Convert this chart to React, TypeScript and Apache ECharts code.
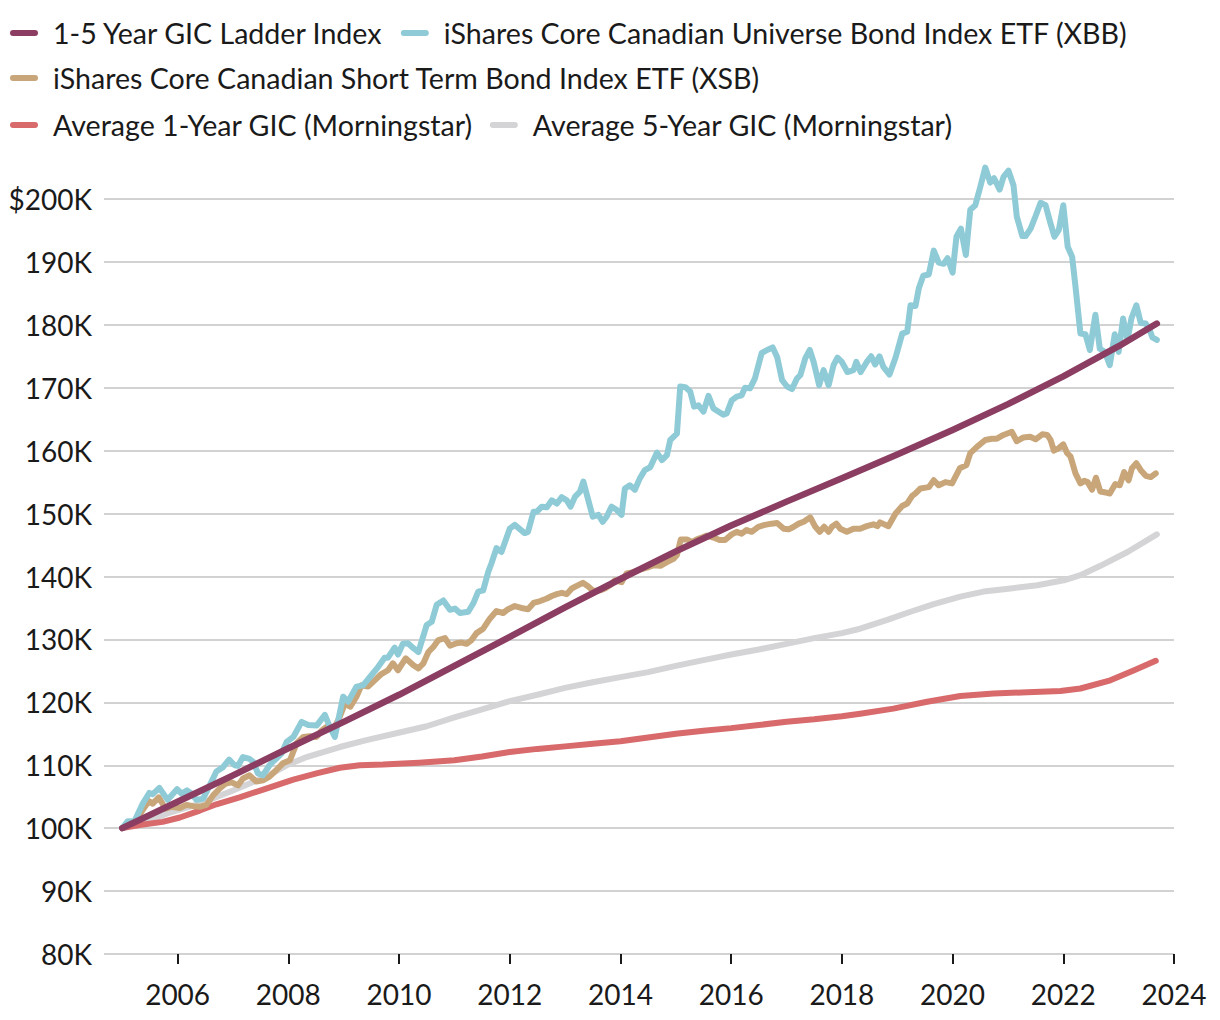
import React, { useEffect, useRef } from "react";
import * as echarts from "echarts";

const FONT = "Lato";

const SERIES_NAMES = [
  "1-5 Year GIC Ladder Index",
  "iShares Core Canadian Universe Bond Index ETF (XBB)",
  "iShares Core Canadian Short Term Bond Index ETF (XSB)",
  "Average 1-Year GIC (Morningstar)",
  "Average 5-Year GIC (Morningstar)",
];

const COLORS = ["#8b3d62", "#8fcbd6", "#c9a67a", "#d86a6c", "#d4d4d6"];

const X_TICKS = [2006, 2008, 2010, 2012, 2014, 2016, 2018, 2020, 2022, 2024];

// values in thousands of dollars, x as decimal years
const LADDER: [number, number][] = [
  [2005.0, 100.0], [2006.0, 104.2], [2007.0, 108.4], [2008.0, 112.7], [2009.0, 116.9],
  [2010.0, 121.2], [2011.0, 125.8], [2012.0, 130.4], [2013.0, 135.1], [2014.0, 139.6],
  [2015.0, 144.0], [2016.0, 148.1], [2017.0, 151.9], [2018.0, 155.6], [2019.0, 159.4],
  [2020.0, 163.3], [2021.0, 167.4], [2022.0, 171.8], [2023.0, 176.6], [2023.69, 180.2],
];

const XBB: [number, number][] = [
  [2005.0, 100.0], [2005.1, 101.1], [2005.22, 101.1], [2005.37, 103.9], [2005.49, 105.6],
  [2005.55, 105.4], [2005.67, 106.4], [2005.82, 104.5], [2005.99, 106.2], [2006.07, 105.5],
  [2006.17, 106.0], [2006.25, 105.5], [2006.34, 104.5], [2006.46, 104.7], [2006.58, 106.8],
  [2006.7, 109.0], [2006.82, 109.7], [2006.93, 110.9], [2007.03, 110.0], [2007.09, 109.9],
  [2007.18, 111.3], [2007.3, 111.0], [2007.37, 110.5], [2007.45, 108.7], [2007.54, 108.4],
  [2007.66, 110.0], [2007.75, 110.8], [2007.88, 111.9], [2007.97, 113.7], [2008.09, 114.5],
  [2008.24, 116.9], [2008.36, 116.4], [2008.51, 116.3], [2008.66, 118.0], [2008.75, 116.1],
  [2008.84, 114.5], [2008.99, 120.9], [2009.08, 120.1], [2009.23, 122.5], [2009.35, 122.7],
  [2009.5, 124.3], [2009.62, 125.6], [2009.74, 127.1], [2009.8, 127.1], [2009.92, 128.7],
  [2009.98, 127.6], [2010.07, 129.3], [2010.16, 129.4], [2010.26, 128.6], [2010.35, 128.0],
  [2010.5, 132.3], [2010.59, 132.8], [2010.68, 135.5], [2010.8, 136.2], [2010.92, 134.7],
  [2011.01, 134.9], [2011.1, 134.2], [2011.25, 134.4], [2011.34, 135.7], [2011.43, 137.6],
  [2011.52, 137.8], [2011.61, 140.7], [2011.67, 142.1], [2011.76, 144.5], [2011.85, 143.9],
  [2012.0, 147.6], [2012.09, 148.2], [2012.27, 146.9], [2012.33, 147.1], [2012.43, 150.3],
  [2012.49, 150.3], [2012.58, 151.1], [2012.67, 151.0], [2012.76, 152.1], [2012.85, 151.6],
  [2012.94, 152.6], [2013.03, 152.1], [2013.1, 151.1], [2013.18, 152.7], [2013.27, 153.5],
  [2013.33, 155.1], [2013.42, 152.1], [2013.5, 149.5], [2013.6, 149.8], [2013.68, 148.7],
  [2013.75, 149.5], [2013.84, 151.1], [2013.93, 150.6], [2014.02, 149.8], [2014.08, 154.0],
  [2014.17, 154.5], [2014.26, 153.8], [2014.35, 155.6], [2014.44, 156.9], [2014.54, 157.4],
  [2014.66, 159.7], [2014.75, 158.5], [2014.84, 159.3], [2014.9, 161.7], [2015.02, 162.7],
  [2015.08, 170.2], [2015.17, 170.1], [2015.26, 169.4], [2015.33, 167.0], [2015.41, 167.2],
  [2015.5, 166.2], [2015.59, 168.7], [2015.68, 166.7], [2015.86, 165.7], [2015.92, 165.9],
  [2016.01, 168.0], [2016.1, 168.6], [2016.19, 168.8], [2016.25, 170.0], [2016.34, 169.9],
  [2016.43, 171.5], [2016.55, 175.5], [2016.65, 176.0], [2016.75, 176.4], [2016.83, 174.9],
  [2016.92, 171.2], [2017.01, 170.2], [2017.1, 169.8], [2017.19, 171.5], [2017.25, 172.0],
  [2017.34, 174.7], [2017.42, 176.0], [2017.49, 174.1], [2017.59, 170.4], [2017.67, 172.8],
  [2017.76, 170.4], [2017.85, 173.6], [2017.92, 174.8], [2018.0, 174.1], [2018.1, 172.5],
  [2018.21, 172.8], [2018.26, 174.1], [2018.34, 172.5], [2018.45, 174.1], [2018.53, 175.0],
  [2018.6, 173.7], [2018.68, 175.0], [2018.75, 173.3], [2018.86, 172.1], [2018.97, 174.8],
  [2019.09, 178.6], [2019.18, 178.9], [2019.24, 183.1], [2019.33, 183.0], [2019.39, 185.8],
  [2019.47, 187.8], [2019.57, 188.0], [2019.66, 191.8], [2019.75, 189.9], [2019.84, 189.7],
  [2019.91, 190.6], [2020.0, 188.3], [2020.07, 194.0], [2020.15, 195.3], [2020.24, 191.1],
  [2020.32, 198.3], [2020.41, 199.0], [2020.5, 201.9], [2020.59, 205.0], [2020.68, 202.6],
  [2020.75, 203.3], [2020.85, 201.5], [2020.92, 203.5], [2021.01, 204.5], [2021.1, 202.2],
  [2021.16, 197.2], [2021.26, 194.1], [2021.32, 194.1], [2021.41, 195.3], [2021.5, 197.3],
  [2021.59, 199.4], [2021.68, 199.0], [2021.76, 196.4], [2021.84, 194.0], [2021.92, 195.1],
  [2022.0, 199.0], [2022.08, 192.4], [2022.16, 190.8], [2022.22, 186.1], [2022.31, 178.6],
  [2022.4, 178.5], [2022.48, 176.0], [2022.58, 181.6], [2022.66, 176.2], [2022.75, 175.7],
  [2022.84, 173.6], [2022.93, 178.5], [2023.0, 175.7], [2023.08, 181.0], [2023.16, 177.6],
  [2023.23, 181.0], [2023.32, 183.1], [2023.4, 180.3], [2023.49, 180.2], [2023.56, 179.2],
  [2023.61, 178.0], [2023.69, 177.6],
];

const XSB: [number, number][] = [
  [2005.0, 100.0], [2005.16, 100.7], [2005.25, 101.3], [2005.37, 102.9], [2005.48, 104.3],
  [2005.55, 103.9], [2005.66, 104.9], [2005.78, 103.1], [2005.89, 103.4], [2006.04, 103.2],
  [2006.16, 103.7], [2006.28, 103.5], [2006.4, 103.4], [2006.52, 103.7], [2006.64, 105.2],
  [2006.76, 106.3], [2006.87, 107.1], [2006.97, 107.3], [2007.09, 106.8], [2007.18, 107.9],
  [2007.3, 108.4], [2007.42, 107.4], [2007.54, 107.6], [2007.66, 108.2], [2007.78, 109.2],
  [2007.9, 110.3], [2008.03, 110.8], [2008.15, 113.5], [2008.27, 114.5], [2008.39, 114.6],
  [2008.51, 114.5], [2008.6, 115.5], [2008.69, 116.1], [2008.81, 115.6], [2008.93, 117.7],
  [2009.02, 119.8], [2009.12, 119.3], [2009.23, 120.9], [2009.32, 122.7], [2009.44, 122.5],
  [2009.56, 123.5], [2009.68, 124.5], [2009.8, 125.1], [2009.89, 126.2], [2009.98, 125.1],
  [2010.12, 127.0], [2010.26, 125.9], [2010.35, 125.4], [2010.44, 126.2], [2010.53, 128.0],
  [2010.62, 128.8], [2010.71, 129.9], [2010.83, 130.2], [2010.92, 129.0], [2011.04, 129.4],
  [2011.13, 129.5], [2011.22, 129.3], [2011.31, 129.9], [2011.4, 131.0], [2011.52, 131.7],
  [2011.64, 133.3], [2011.76, 134.5], [2011.88, 134.2], [2011.97, 134.8], [2012.09, 135.3],
  [2012.21, 135.0], [2012.33, 134.8], [2012.43, 135.8], [2012.55, 136.1], [2012.67, 136.5],
  [2012.76, 136.9], [2012.85, 137.2], [2012.94, 137.4], [2013.03, 137.2], [2013.12, 138.1],
  [2013.21, 138.5], [2013.32, 139.0], [2013.42, 138.4], [2013.51, 137.7], [2013.63, 137.8],
  [2013.72, 138.1], [2013.81, 138.6], [2013.9, 139.4], [2014.02, 139.1], [2014.11, 140.5],
  [2014.23, 140.7], [2014.35, 141.1], [2014.48, 141.4], [2014.6, 141.8], [2014.72, 141.7],
  [2014.84, 142.3], [2014.96, 142.8], [2015.02, 143.4], [2015.09, 145.9], [2015.2, 145.9],
  [2015.29, 145.5], [2015.38, 145.9], [2015.47, 146.2], [2015.56, 146.5], [2015.68, 146.2],
  [2015.79, 145.8], [2015.89, 145.8], [2016.01, 146.7], [2016.1, 147.1], [2016.19, 146.8],
  [2016.28, 147.4], [2016.37, 147.1], [2016.49, 147.9], [2016.61, 148.2], [2016.73, 148.4],
  [2016.83, 148.5], [2016.95, 147.6], [2017.04, 147.5], [2017.13, 147.9], [2017.22, 148.4],
  [2017.31, 148.7], [2017.43, 149.4], [2017.52, 147.9], [2017.6, 147.1], [2017.68, 147.9],
  [2017.76, 147.1], [2017.82, 147.9], [2017.9, 148.4], [2017.97, 147.6], [2018.09, 147.1],
  [2018.21, 147.6], [2018.33, 147.6], [2018.45, 148.0], [2018.57, 148.3], [2018.64, 148.0],
  [2018.69, 148.6], [2018.84, 148.0], [2018.97, 150.0], [2019.09, 151.2], [2019.18, 151.6],
  [2019.27, 152.8], [2019.33, 153.2], [2019.42, 154.0], [2019.57, 154.2], [2019.66, 155.3],
  [2019.75, 154.5], [2019.87, 155.0], [2019.99, 154.8], [2020.13, 157.2], [2020.25, 157.7],
  [2020.32, 159.6], [2020.44, 160.6], [2020.59, 161.7], [2020.71, 161.9], [2020.8, 161.9],
  [2020.92, 162.5], [2021.07, 163.0], [2021.16, 161.5], [2021.28, 162.1], [2021.4, 162.2],
  [2021.5, 161.8], [2021.62, 162.6], [2021.71, 162.5], [2021.77, 161.7], [2021.83, 160.0],
  [2021.92, 160.4], [2022.0, 161.0], [2022.07, 159.6], [2022.13, 159.1], [2022.22, 156.4],
  [2022.31, 154.8], [2022.38, 155.2], [2022.44, 155.0], [2022.52, 153.8], [2022.59, 155.7],
  [2022.67, 153.5], [2022.79, 153.3], [2022.84, 153.2], [2022.94, 154.7], [2023.02, 154.5],
  [2023.1, 156.6], [2023.18, 155.3], [2023.24, 157.2], [2023.32, 158.0], [2023.4, 156.9],
  [2023.49, 156.0], [2023.58, 155.8], [2023.67, 156.4],
];

const GIC_1Y: [number, number][] = [
  [2005.0, 100.0], [2005.31, 100.5], [2005.73, 101.0], [2006.04, 101.7], [2006.4, 102.8],
  [2006.7, 103.8], [2007.12, 104.9], [2007.6, 106.3], [2008.09, 107.7], [2008.51, 108.7],
  [2008.93, 109.6], [2009.29, 110.0], [2009.71, 110.1], [2010.36, 110.4], [2011.0, 110.8],
  [2011.5, 111.4], [2012.0, 112.1], [2012.5, 112.6], [2013.0, 113.0], [2013.5, 113.4],
  [2014.0, 113.8], [2014.5, 114.4], [2015.0, 115.0], [2015.5, 115.5], [2016.0, 115.9],
  [2016.5, 116.4], [2017.0, 116.9], [2017.5, 117.3], [2018.0, 117.8], [2018.33, 118.2],
  [2018.93, 119.0], [2019.54, 120.1], [2020.14, 121.0], [2020.74, 121.4], [2021.35, 121.6],
  [2021.95, 121.8], [2022.31, 122.2], [2022.85, 123.5], [2023.28, 125.1], [2023.67, 126.6],
];

const GIC_5Y: [number, number][] = [
  [2005.0, 100.0], [2005.5, 101.2], [2005.8, 102.3], [2006.4, 103.9], [2007.0, 106.0],
  [2007.6, 108.2], [2007.97, 110.0], [2008.33, 111.3], [2008.93, 112.9], [2009.41, 114.0],
  [2010.01, 115.2], [2010.5, 116.2], [2011.0, 117.6], [2011.5, 118.9], [2012.0, 120.2],
  [2012.5, 121.2], [2013.0, 122.3], [2013.5, 123.2], [2014.0, 124.0], [2014.5, 124.8],
  [2015.0, 125.8], [2015.5, 126.7], [2016.0, 127.6], [2016.5, 128.4], [2017.0, 129.3],
  [2017.5, 130.2], [2018.0, 131.0], [2018.33, 131.7], [2018.82, 133.1], [2019.24, 134.4],
  [2019.66, 135.6], [2020.14, 136.8], [2020.56, 137.6], [2021.05, 138.1], [2021.53, 138.6],
  [2022.01, 139.4], [2022.31, 140.2], [2022.67, 141.7], [2023.16, 143.9], [2023.69, 146.7],
];

const SERIES_DATA = [LADDER, XBB, XSB, GIC_1Y, GIC_5Y];
const SERIES_Z = [10, 8, 7, 6, 5];

const PILL = "path://M3,0L25,0A3,3,0,0,1,25,6L3,6A3,3,0,0,1,3,0Z";

export default function App() {
  const ref = useRef<HTMLDivElement>(null);
  useEffect(() => {
    document.body.style.margin = "0";
    const chart = echarts.init(ref.current!, null, { renderer: "svg" });
    const legendText = {
      fontFamily: FONT,
      fontSize: 28.6,
      color: "#1a1a1a",
      lineHeight: 30,
      padding: [0, 0, 0, 10],
    };
    const legendBase = {
      left: 10,
      orient: "horizontal" as const,
      icon: PILL,
      itemWidth: 28,
      itemHeight: 6,
      itemGap: 17,
      textStyle: legendText,
      selectedMode: false,
      padding: 0,
    };
    chart.setOption({
      animation: false,
      backgroundColor: "#ffffff",
      legend: [
        { ...legendBase, top: 18, data: [SERIES_NAMES[0], SERIES_NAMES[1]] },
        { ...legendBase, top: 63, data: [SERIES_NAMES[2]] },
        { ...legendBase, top: 110, data: [SERIES_NAMES[3], SERIES_NAMES[4]] },
      ],
      grid: { left: 104, right: 46, top: 199, bottom: 66, containLabel: false },
      xAxis: {
        type: "value",
        min: 2004.67,
        max: 2024,
        axisLine: { show: false },
        splitLine: { show: false },
        axisTick: {
          show: true,
          customValues: X_TICKS,
          length: 10,
          inside: false,
          lineStyle: { color: "#1a1a1a", width: 2 },
        },
        axisLabel: {
          customValues: X_TICKS,
          margin: 26,
          fontFamily: FONT,
          fontSize: 28,
          color: "#1a1a1a",
          formatter: (v: number) => String(Math.round(v)),
        },
      },
      yAxis: {
        type: "value",
        min: 80,
        max: 200,
        interval: 10,
        axisLine: { show: false },
        axisTick: { show: false },
        splitLine: { show: true, lineStyle: { color: "#d2d2d2", width: 2 } },
        axisLabel: {
          margin: 12,
          fontFamily: FONT,
          fontSize: 28,
          color: "#1a1a1a",
          formatter: (v: number) => (v === 200 ? "$200K" : `${v}K`),
        },
      },
      series: SERIES_NAMES.map((name, i) => ({
        name,
        type: "line",
        data: SERIES_DATA[i],
        showSymbol: false,
        symbol: "none",
        clip: false,
        z: SERIES_Z[i],
        itemStyle: { color: COLORS[i] },
        lineStyle: { color: COLORS[i], width: i === 0 ? 6.5 : 6, cap: "round", join: "round" },
      })),
    });
    return () => chart.dispose();
  }, []);
  return <div ref={ref} style={{ width: 1220, height: 1020 }} />;
}
